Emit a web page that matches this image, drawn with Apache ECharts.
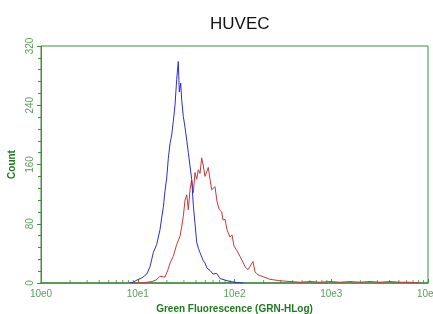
<!DOCTYPE html>
<html>
<head>
<meta charset="utf-8">
<script src="https://cdn.jsdelivr.net/npm/echarts@6/dist/echarts.min.js"></script>
<style>
    html, body { margin: 0; padding: 0; background: #fff; }
    #chart { width: 433px; height: 314px; }
</style>
</head>
<body>
<div id="chart"></div>
<script>
// fluorescence (GRN-HLog) and count
var blueX = [8.32, 8.93, 9.82, 11.07, 12.38, 13.39, 14.48, 15.70, 16.98, 17.68, 18.37, 19.12, 19.92, 20.69,
    21.54, 22.43, 23.30, 24.27, 25.27, 26.25, 26.88, 27.79, 28.46, 29.57, 30.80, 32.07, 33.31, 34.68,
    36.11, 37.52, 39.07, 40.69, 42.26, 44.00, 47.59, 49.56, 51.97, 55.83, 59.96, 65.46, 70.81, 79.78,
    89.85, 101.2, 122.4];
var blueY = [0, 1, 4, 7, 12, 22, 41, 52, 72, 88, 102, 124, 142, 168,
    188, 200, 218, 240, 275, 299, 258, 270, 247, 225, 210, 193, 176, 158,
    140, 105, 80, 55, 47, 41, 30, 27, 20, 17, 12, 13, 6, 4,
    2, 1, 0];

var redX = [8.32, 10.55, 12.46, 14.04, 15.44, 16.98, 19.12, 20.54, 21.54, 23.30, 25.27, 26.06, 27.33, 28.46,
    29.57, 30.80, 32.07, 33.31, 34.68, 36.11, 37.52, 39.07, 40.69, 42.26, 44.00, 45.81, 47.59, 49.56,
    51.59, 53.60, 55.83, 58.12, 60.37, 62.86, 65.94, 69.65, 73.74, 76.05, 79.78, 83.66, 89.85, 94.23,
    98.81, 105.4, 114.0, 122.4, 128.4, 137.9, 144.6, 155.3, 162.9, 175.0, 192.4, 211.7, 232.8, 262.2,
    295.3, 374.7, 475.3, 603.0, 765.0, 970.7, 1231, 1562, 1983, 2515, 3191, 4049, 5137, 6517, 8266];
var redY = [0, 0, 1, 2, 4, 9, 8, 18, 27, 36, 52, 50, 63, 76,
    90, 112, 119, 99, 126, 139, 122, 149, 140, 153, 148, 169, 158, 144,
    150, 156, 140, 126, 125, 130, 110, 99, 96, 85, 86, 72, 62, 65,
    50, 44, 36, 28, 22, 18, 20, 29, 15, 11, 9, 7, 5, 4,
    3, 2, 1, 2, 1, 2, 1, 2, 1, 2, 1, 2, 1, 1, 0];

var xTicks = [1, 10, 100, 1000, 10000];
var yTicks = [0, 80, 160, 240, 320];

var axisGreen = '#3f8f3f';
var labelGreen = '#5c9c5c';
var nameGreen = '#1e7a1e';

function pairs(xs, ys) {
    var out = [];
    for (var i = 0; i < xs.length; i++) {
        out.push([xs[i], ys[i]]);
    }
    return out;
}

function minorTicks() {
    // small ticks at 2..9 of every decade on the log axis
    var out = [];
    for (var d = 0; d < xTicks.length - 1; d++) {
        for (var k = 2; k <= 9; k++) {
            out.push([xTicks[d] * k, 0]);
        }
    }
    return out;
}

function genOption() {
    return {
        animation: false,
        title: {
            text: 'HUVEC',
            left: 205,
            top: 11,
            textStyle: {
                fontFamily: 'Liberation Sans, Arial, sans-serif',
                fontWeight: 'normal',
                fontSize: 17,
                color: '#111'
            }
        },
        grid: {
            left: 41,
            right: 5,
            top: 46,
            bottom: 31,
            outerBoundsMode: 'none',
            containLabel: false,
            show: true,
            borderColor: axisGreen,
            borderWidth: 1
        },
        xAxis: {
            type: 'log',
            logBase: 10,
            min: xTicks[0],
            max: xTicks[xTicks.length - 1],
            name: 'Green Fluorescence (GRN-HLog)',
            nameLocation: 'middle',
            nameGap: 19,
            nameTextStyle: {
                color: nameGreen,
                fontWeight: 'bold',
                fontSize: 10,
                fontFamily: 'Liberation Sans, Arial, sans-serif'
            },
            axisLine: { lineStyle: { color: axisGreen, width: 1.5 } },
            axisTick: { show: true, inside: true, length: 4, lineStyle: { color: axisGreen } },
            splitLine: { show: false },
            axisLabel: {
                color: labelGreen,
                fontSize: 10,
                margin: 6,
                fontFamily: 'Liberation Sans, Arial, sans-serif',
                showMaxLabel: true,
                formatter: function (v) {
                    return '10e' + Math.round(Math.log10(v));
                }
            }
        },
        yAxis: {
            type: 'value',
            min: yTicks[0],
            max: yTicks[yTicks.length - 1],
            interval: 80,
            name: 'Count',
            nameLocation: 'middle',
            nameRotate: 90,
            nameGap: 20,
            nameTextStyle: {
                color: nameGreen,
                fontWeight: 'bold',
                fontSize: 10,
                fontFamily: 'Liberation Sans, Arial, sans-serif'
            },
            axisLine: { show: true, lineStyle: { color: axisGreen, width: 1 } },
            axisTick: { show: true, length: 4, lineStyle: { color: axisGreen } },
            minorTick: { show: true, splitNumber: 5, length: 3, lineStyle: { color: axisGreen } },
            splitLine: { show: false },
            axisLabel: {
                rotate: 90,
                color: labelGreen,
                fontSize: 10,
                margin: 6,
                fontFamily: 'Liberation Sans, Arial, sans-serif'
            }
        },
        series: [{
            type: 'scatter',
            silent: true,
            symbol: 'rect',
            symbolSize: [1, 3],
            symbolOffset: [0, -1.5],
            itemStyle: { color: axisGreen },
            data: minorTicks(),
            z: 1
        }, {
            name: 'blue',
            type: 'line',
            showSymbol: false,
            data: pairs(blueX, blueY),
            lineStyle: { color: '#2f2fbf', width: 1 },
            z: 3
        }, {
            name: 'red',
            type: 'line',
            showSymbol: false,
            data: pairs(redX, redY),
            lineStyle: { color: '#c43a3a', width: 1 },
            z: 2
        }]
    };
}

function initChart() {
    var chart = echarts.init(document.getElementById('chart'));
    chart.setOption(genOption());
}

initChart();
</script>
</body>
</html>
